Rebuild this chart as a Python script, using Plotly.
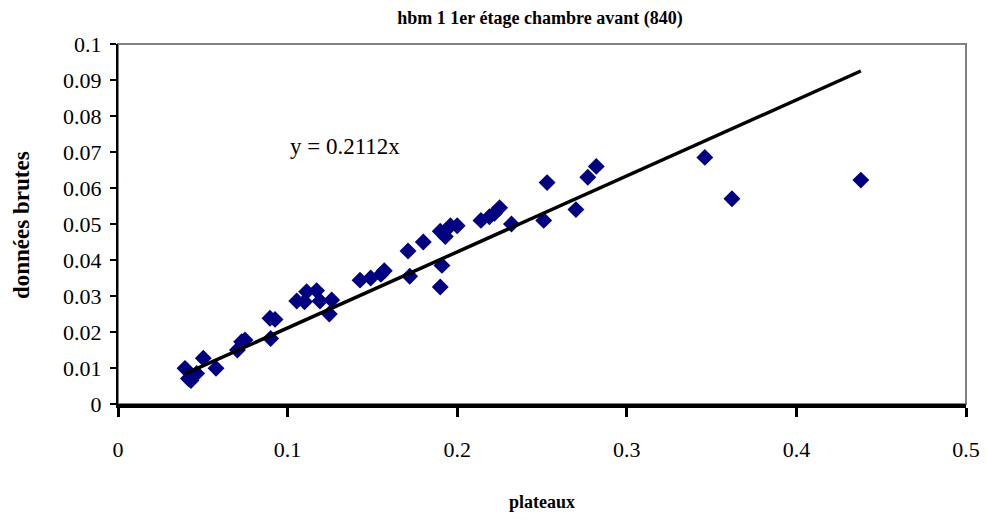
import plotly.graph_objects as go

plateaux = [0.0395, 0.0415, 0.043, 0.0464, 0.0503, 0.0578, 0.0704, 0.0729, 0.0749,
            0.0896, 0.0926, 0.0900, 0.1054, 0.110, 0.1112, 0.1171, 0.1191, 0.126, 0.1246,
            0.1427, 0.149, 0.155, 0.157, 0.171, 0.172, 0.180, 0.190, 0.191, 0.190, 0.193,
            0.196, 0.200, 0.214, 0.219, 0.222, 0.225, 0.232, 0.251, 0.253, 0.270, 0.277,
            0.282, 0.346, 0.362, 0.438]
donnees = [0.0099, 0.0071, 0.0065, 0.0085, 0.0127, 0.0099, 0.015, 0.0173, 0.0178,
           0.0238, 0.0235, 0.0182, 0.0286, 0.0284, 0.0312, 0.0315, 0.0286, 0.0289, 0.025,
           0.0344, 0.035, 0.036, 0.037, 0.0425, 0.0355, 0.045, 0.0325, 0.0385, 0.048, 0.0465,
           0.0495, 0.0495, 0.051, 0.052, 0.053, 0.0545, 0.050, 0.051, 0.0615, 0.054, 0.063,
           0.066, 0.0685, 0.057, 0.0622]
slope = 0.2112
trend_x = [0.0395, 0.438]
trend_y = [slope * v for v in trend_x]

x_ticks = [0, 0.1, 0.2, 0.3, 0.4, 0.5]
x_labels = ["0", "0.1", "0.2", "0.3", "0.4", "0.5"]
y_ticks = [0, 0.01, 0.02, 0.03, 0.04, 0.05, 0.06, 0.07, 0.08, 0.09, 0.1]
y_labels = ["0", "0.01", "0.02", "0.03", "0.04", "0.05", "0.06", "0.07", "0.08", "0.09", "0.1"]

font = "Liberation Serif, Times New Roman, serif"

fig = go.Figure()
fig.add_trace(go.Scatter(x=plateaux, y=donnees, mode="markers",
                         marker=dict(symbol="diamond", size=13, color="#000080",
                                     line=dict(width=0)),
                         showlegend=False, cliponaxis=False))
fig.add_trace(go.Scatter(x=trend_x, y=trend_y, mode="lines",
                         line=dict(color="black", width=3.5), showlegend=False))

fig.add_shape(type="rect", xref="paper", yref="paper", x0=0, y0=0, x1=1, y1=1,
              line=dict(color="#808080", width=2), layer="below")

fig.add_annotation(text="y = 0.2112x", x=0.1, y=0.0714, xref="x", yref="y",
                   xanchor="left", yanchor="middle", showarrow=False,
                   font=dict(family=font, size=23, color="black"))

fig.add_annotation(text="<b>données brutes</b>", x=-(118 - 21) / 848, y=(404 - 225) / 360,
                   xref="paper", yref="paper",
                   xanchor="center", yanchor="middle", textangle=-90, showarrow=False,
                   font=dict(family=font, size=23, color="black"))
fig.add_annotation(text="<b>plateaux</b>", x=0.5, y=-(502 - 404) / 360,
                   xref="paper", yref="paper",
                   showarrow=False, font=dict(family=font, size=18, color="black"),
                   xanchor="center", yanchor="middle")

fig.update_layout(
    width=987, height=519,
    margin=dict(l=118, r=21, t=44, b=115, autoexpand=False),
    paper_bgcolor="white", plot_bgcolor="white",
    font=dict(family=font, color="black"),
    title=dict(text="<b>hbm 1 1er étage chambre avant (840)</b>", x=(540 - 118) / 848,
               xref="paper", xanchor="center",
               y=1 - 18 / 519, yanchor="middle", font=dict(family=font, size=18)),
    xaxis=dict(range=[0, 0.5], tickvals=x_ticks, ticktext=x_labels, showgrid=False,
               zeroline=False, showline=True, linecolor="black", linewidth=4,
               ticks="outside", ticklen=9, tickwidth=3, tickcolor="black",
               tickfont=dict(family=font, size=22), ticklabelstandoff=14,
               automargin=False),
    yaxis=dict(range=[0, 0.1], tickvals=y_ticks, ticktext=y_labels, showgrid=False,
               zeroline=False, showline=True, linecolor="black", linewidth=2,
               ticks="outside", ticklen=6, tickwidth=2, tickcolor="black",
               tickfont=dict(family=font, size=22), ticklabelstandoff=4,
               automargin=False),
)

fig.write_html("out.html", config={"displayModeBar": False},
               post_script="document.body.style.margin='0';")
